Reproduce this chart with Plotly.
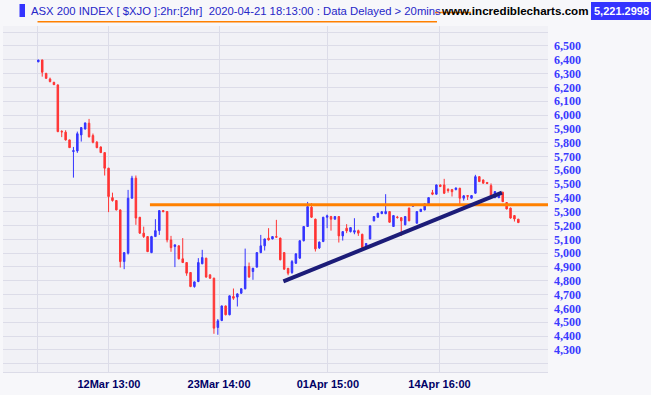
import plotly.graph_objects as go

# ---------------- data ----------------
opens = [6385, 6399, 6302, 6261, 6237, 6218, 5882, 5876, 5820, 5736,
         5740, 5856, 5899, 5941, 5851, 5803, 5769, 5728, 5615, 5402,
         5381, 5313, 4939, 5000, 5398, 5543, 5260, 5145, 5120, 5004,
         5120, 5163, 5308, 5301, 5096, 5048, 5053, 4959, 4932, 4860,
         4758, 4795, 4923, 4964, 4843, 4819, 4462, 4512, 4618, 4554,
         4686, 4682, 4710, 4742, 4903, 4867, 4899, 5004, 5053, 5109,
         5103, 5120, 5109, 5004, 4890, 4860, 4927, 4964, 5090, 5193,
         5333, 5246, 5038, 5084, 5260, 5265, 5246, 5265, 5125, 5181,
         5156, 5152, 5163, 5137, 5041, 5103, 5234, 5260, 5286, 5286,
         5301, 5193, 5262, 5257, 5205, 5326, 5340, 5217, 5301, 5313,
         5357, 5438, 5427, 5494, 5494, 5462, 5460, 5460, 5470, 5398,
         5417, 5398, 5434, 5554, 5530, 5512, 5489, 5402, 5402, 5441,
         5366, 5326, 5272, 5246]
highs = [6400, 6400, 6305, 6271, 6240, 6222, 5890, 5890, 5822, 5769,
         5880, 5912, 5945, 5972, 5866, 5812, 5772, 5730, 5618, 5438,
         5384, 5316, 5004, 5458, 5560, 5562, 5262, 5192, 5122, 5125,
         5246, 5310, 5312, 5304, 5125, 5062, 5056, 5109, 4935, 4862,
         4795, 4964, 5024, 4966, 4845, 4822, 4523, 4620, 4620, 4693,
         4744, 4710, 4745, 5033, 4932, 4893, 5006, 5132, 5105, 5181,
         5122, 5241, 5112, 5006, 4893, 4950, 4998, 5092, 5196, 5371,
         5362, 5250, 5084, 5263, 5279, 5270, 5268, 5268, 5158, 5210,
         5187, 5253, 5170, 5140, 5072, 5200, 5268, 5292, 5303, 5427,
         5304, 5275, 5270, 5260, 5268, 5330, 5355, 5304, 5320, 5360,
         5405, 5458, 5497, 5497, 5538, 5470, 5465, 5475, 5473, 5420,
         5420, 5420, 5567, 5557, 5533, 5515, 5505, 5449, 5440, 5445,
         5370, 5330, 5275, 5248]
lows = [6383, 6278, 6262, 6237, 6218, 5876, 5840, 5815, 5762, 5547,
        5726, 5808, 5895, 5838, 5795, 5760, 5726, 5562, 5297, 5373,
        5310, 4896, 4884, 4990, 5395, 5205, 5140, 5110, 5008, 5000,
        5117, 5132, 5300, 5078, 5010, 4899, 4955, 4930, 4836, 4754,
        4750, 4790, 4920, 4822, 4815, 4416, 4409, 4508, 4550, 4550,
        4662, 4614, 4705, 4738, 4822, 4807, 4895, 5000, 5019, 5091,
        5100, 5114, 4948, 4880, 4840, 4850, 4922, 4960, 5085, 5190,
        5255, 5012, 5030, 5080, 5181, 5163, 5244, 5077, 5091, 5145,
        5150, 5137, 5125, 5030, 5038, 5100, 5230, 5257, 5283, 5282,
        5220, 5190, 5250, 5125, 5202, 5232, 5336, 5214, 5298, 5310,
        5354, 5420, 5424, 5480, 5428, 5438, 5410, 5455, 5355, 5380,
        5385, 5395, 5430, 5515, 5504, 5500, 5412, 5398, 5398, 5370,
        5317, 5250, 5229, 5218]
closes = [6398, 6310, 6266, 6242, 6220, 5880, 5878, 5820, 5764, 5742,
          5865, 5909, 5943, 5842, 5803, 5764, 5728, 5615, 5410, 5381,
          5313, 4939, 5004, 5398, 5543, 5254, 5145, 5120, 5011, 5120,
          5163, 5308, 5300, 5096, 5040, 5060, 4959, 4932, 4855, 4758,
          4792, 4932, 4968, 4827, 4819, 4457, 4510, 4618, 4554, 4691,
          4674, 4705, 4742, 4903, 4827, 4891, 5004, 5053, 5103, 5096,
          5120, 5116, 4952, 4884, 4855, 4939, 4995, 5090, 5193, 5337,
          5260, 5031, 5080, 5260, 5270, 5246, 5265, 5125, 5156, 5161,
          5185, 5163, 5145, 5041, 5070, 5198, 5265, 5289, 5300, 5301,
          5224, 5272, 5258, 5234, 5265, 5234, 5350, 5301, 5318, 5357,
          5402, 5427, 5494, 5482, 5434, 5453, 5445, 5472, 5398, 5415,
          5412, 5417, 5554, 5518, 5507, 5505, 5415, 5446, 5436, 5373,
          5320, 5254, 5248, 5221.2998]

tick_pos = [-0.33, 18.1, 46.3, 74.2, 102.8]
tick_text = ["", "12Mar 13:00", "23Mar 14:00", "01Apr 15:00", "14Apr 16:00"]
price_ticks = list(range(4200, 6700, 100))
price_labels = ["" if p in (4200, 6600) else f"{p:,}" for p in price_ticks]

resistance_level = 5351
resistance_x = [28.6, 130.6]
trend_x = [62.8, 118.8]
trend_y = [4795, 5438]

last_price = "5,221.2998"
title_text = "ASX 200 INDEX [ $XJO ]:2hr:[2hr]\u00a0\u00a02020-04-21 18:13:00 : Data Delayed > 20mins"

# ---------------- figure ----------------
W, H = 651, 395
ML, MR, MT, MB = 3, 103, 26, 23
PW, PH = W - ML - MR, H - MT - MB

def px(x):
    return (x - ML) / PW

def py(y):
    return (H - MB - y) / PH

UP = "#3434ff"
DOWN = "#ff3434"
GRID = "#dcdce8"

bars = list(range(len(opens)))

fig = go.Figure()
fig.add_trace(go.Candlestick(
    x=bars, open=opens, high=highs, low=lows, close=closes,
    increasing=dict(line=dict(color=UP, width=1), fillcolor=UP),
    decreasing=dict(line=dict(color=DOWN, width=1), fillcolor=DOWN),
    whiskerwidth=0, showlegend=False, hoverinfo="skip",
))
fig.add_trace(go.Scatter(
    x=resistance_x, y=[resistance_level, resistance_level], mode="lines",
    line=dict(color="#ff8000", width=3), showlegend=False, hoverinfo="skip",
))
fig.add_trace(go.Scatter(
    x=trend_x, y=trend_y, mode="lines",
    line=dict(color="#1c1c78", width=4), showlegend=False, hoverinfo="skip",
))

fig.update_layout(
    width=W, height=H,
    margin=dict(l=ML, r=MR, t=MT, b=MB, pad=0),
    paper_bgcolor="#f7f7fa",
    plot_bgcolor="#f1f1f6",
    boxgap=0.45,
    showlegend=False,
    hovermode=False,
    xaxis=dict(
        range=[-9.05, 130.6], rangeslider=dict(visible=False),
        tickmode="array", tickvals=tick_pos, ticktext=tick_text,
        showgrid=True, gridcolor=GRID, gridwidth=1,
        zeroline=False, showline=True, linecolor=GRID, linewidth=1,
        ticks="", ticklabelstandoff=2,
        tickfont=dict(family="Liberation Sans, Arial", size=11, color="#000066", weight="bold"),
    ),
    yaxis=dict(
        range=[4139.5, 6644.7], side="right",
        tickmode="array", tickvals=price_ticks, ticktext=price_labels,
        showgrid=True, gridcolor=GRID, gridwidth=1,
        zeroline=False, showline=False, ticks="", ticklabelstandoff=5,
        tickfont=dict(family="Liberation Serif, Times New Roman", size=12, color="#3a3aff", weight="bold"),
    ),
    shapes=[
        dict(type="rect", xref="paper", yref="paper",
             x0=px(19.5), x1=px(25), y0=py(17), y1=py(4),
             fillcolor="#3434ff", line=dict(width=0)),
        dict(type="line", xref="paper", yref="paper",
             x0=px(37.5), x1=px(437), y0=py(21.7), y1=py(21.7),
             line=dict(color="#ff8000", width=1.5)),
        dict(type="line", xref="paper", yref="paper",
             x0=px(435), x1=px(471), y0=py(12.5), y1=py(12.5),
             line=dict(color="#ff8000", width=1.5)),
        dict(type="rect", xref="paper", yref="paper",
             x0=px(591), x1=px(651), y0=py(20), y1=py(2),
             fillcolor="#3434ff", line=dict(width=0)),
    ],
    annotations=[
        dict(text=title_text, xref="paper", yref="paper",
             x=px(29), y=py(11), xanchor="left", yanchor="middle", showarrow=False,
             font=dict(family="Liberation Sans, Arial", size=11.3, color="#2626c8")),
        dict(text="www.incrediblecharts.com", xref="paper", yref="paper",
             x=px(439), y=py(11), xanchor="left", yanchor="middle", showarrow=False,
             font=dict(family="Liberation Sans, Arial", size=11.6, color="#000000", weight="bold")),
        dict(text=last_price, xref="paper", yref="paper",
             x=px(621), y=py(11), xanchor="center", yanchor="middle", showarrow=False,
             font=dict(family="Liberation Sans, Arial", size=11, color="#ffffff", weight="bold")),
    ],
)

fig.write_html(
    "out.html",
    config={"displayModeBar": False, "staticPlot": True},
    post_script="document.body.style.margin='0';document.body.style.overflow='hidden';",
)
